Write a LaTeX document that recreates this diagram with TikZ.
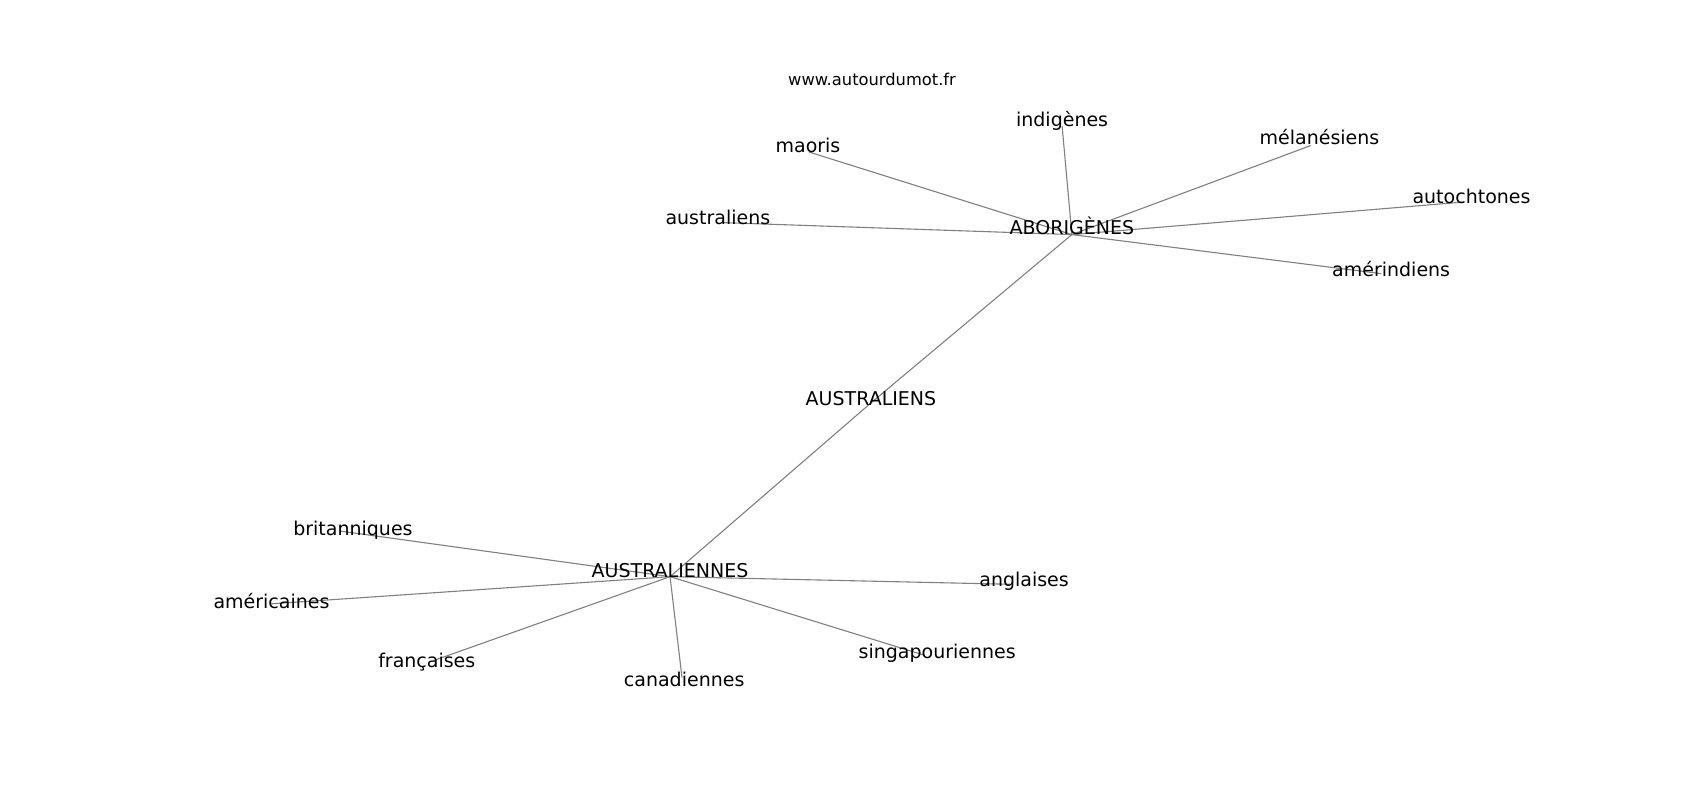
\documentclass[tikz,border=0pt]{standalone}
\usepackage{fontspec}
\setmainfont{DejaVu Sans}
\begin{document}
\begin{tikzpicture}[x=1.086pt,y=-1.086pt,
  lbl/.style={inner sep=0pt,text height=0.76em,text depth=0.24em,font=\fontsize{19}{22}\selectfont},
  small/.style={inner sep=0pt,text height=0.76em,text depth=0.24em,font=\fontsize{16.3}{19}\selectfont},
  edge/.style={draw=black!50,line width=1.1pt}]
\useasboundingbox[fill=white] (0,0) rectangle (1565.4,736.6);
% node positions
\coordinate (pAbo) at (987,216);
\coordinate (pAus) at (802,371);
\coordinate (pAne) at (617,531);
\coordinate (pInd) at (978,116);
\coordinate (pMao) at (745,140);
\coordinate (pMel) at (1207,134);
\coordinate (pAut) at (1348,186);
\coordinate (pAul) at (666,205);
\coordinate (pAme) at (1272,252);
\coordinate (pBri) at (313,489);
\coordinate (pAmc) at (250,556);
\coordinate (pFra) at (400,608);
\coordinate (pCan) at (628,624);
\coordinate (pSin) at (850,603);
\coordinate (pAng) at (930,538);
% edges
\foreach \a/\b in {pAbo/pAus,pAus/pAne,pAbo/pInd,pAbo/pMao,pAbo/pMel,pAbo/pAut,pAbo/pAul,pAbo/pAme,
  pAne/pBri,pAne/pAmc,pAne/pFra,pAne/pCan,pAne/pSin,pAne/pAng}
  \draw[edge] (\a) -- (\b);
% labels
\node[small] (site) at (803,76) {www.autourdumot.fr};
\node[lbl] (lInd) at (978,114) {indigènes};
\node[lbl] (lMao) at (744,138) {maoris};
\node[lbl] (lMel) at (1215,131) {mélanésiens};
\node[lbl] (lAut) at (1355,185) {autochtones};
\node[lbl] (lAul) at (661,204) {australiens};
\node[lbl] (lAbo) at (987,213.5) {ABORIGÈNES};
\node[lbl] (lAme) at (1281,252) {amérindiens};
\node[lbl] (lAus) at (802,371) {AUSTRALIENS};
\node[lbl] (lAne) at (617,529) {AUSTRALIENNES};
\node[lbl] (lBri) at (325,491) {britanniques};
\node[lbl] (lAmc) at (250,558) {américaines};
\node[lbl] (lFra) at (393,612) {françaises};
\node[lbl] (lCan) at (630,630) {canadiennes};
\node[lbl] (lSin) at (863,604) {singapouriennes};
\node[lbl] (lAng) at (943,538) {anglaises};
\end{tikzpicture}
\end{document}
